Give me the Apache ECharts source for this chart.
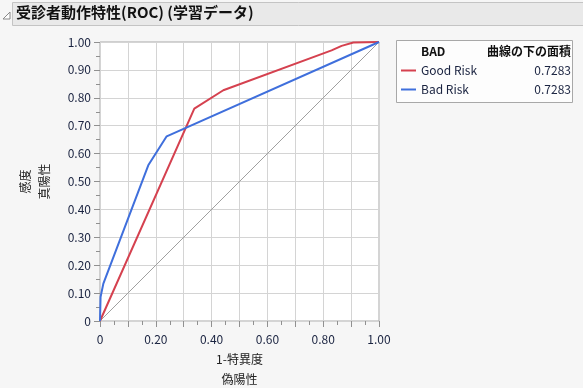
<!DOCTYPE html>
<html><head><meta charset="utf-8">
<script src="https://cdn.jsdelivr.net/npm/echarts@6/dist/echarts.min.js"></script>
<style>html,body{margin:0;padding:0;background:#f6f6f6;}#c{width:583px;height:388px;}</style>
</head><body><div id="c"></div>
<script>
const title = '受診者動作特性(ROC) (学習データ)';
const xName = '1-特異度\n偽陽性';
const yName = '感度\n真陽性';
const legendHeader = ['BAD', '曲線の下の面積'];
const seriesNames = ['Good Risk', 'Bad Risk'];
const aucValues = ['0.7283', '0.7283'];
const goodFpr = [0, 0.338, 0.442, 0.83, 0.866, 0.908, 1];
const goodTpr = [0, 0.761, 0.827, 0.970, 0.986, 0.998, 1];
const badFpr = [0, 0.002, 0.012, 0.173, 0.239, 1];
const badTpr = [0, 0.086, 0.134, 0.558, 0.662, 1];
const diagX = [0, 1];
const diagY = [0, 1];

const font = '"Noto Sans CJK JP", "Noto Sans", sans-serif';
const red = '#d5414f', blue = '#3f6fdc';
const zip = (a, b) => a.map((v, i) => [v, b[i]]);
const fmt = v => { const r = Math.round(v * 100); if (r === 0) return '0'; return (r / 100).toFixed(2); };

const chart = echarts.init(document.getElementById('c'));
chart.setOption({
  backgroundColor: '#f6f6f6',
  animation: false,
  grid: { left: 100, right: 204, top: 42, bottom: 67, outerBoundsMode: 'none', containLabel: false, show: true, backgroundColor: '#ffffff', borderColor: '#a8a8a8', borderWidth: 1 },
  xAxis: {
    type: 'value', min: 0, max: 1, interval: 0.1,
    axisLine: { show: false },
    axisTick: { show: true, length: 6, lineStyle: { color: '#909090' } },
    minorTick: { show: true, splitNumber: 2, length: 4, lineStyle: { color: '#909090' } },
    splitLine: { show: true, lineStyle: { color: '#d4d4d4' } },
    axisLabel: { fontFamily: font, fontSize: 12, color: '#1a2340', margin: 12,
      formatter: v => (Math.round(v * 10) % 2 === 0 ? fmt(v) : '') },
    name: xName, nameLocation: 'middle', nameGap: 28,
    nameTextStyle: { fontFamily: font, fontSize: 12, color: '#222', lineHeight: 20 }
  },
  yAxis: {
    type: 'value', min: 0, max: 1, interval: 0.1,
    axisLine: { show: false },
    axisTick: { show: true, length: 6, lineStyle: { color: '#909090' } },
    minorTick: { show: true, splitNumber: 2, length: 4, lineStyle: { color: '#909090' } },
    splitLine: { show: true, lineStyle: { color: '#d4d4d4' } },
    axisLabel: { fontFamily: font, fontSize: 12, color: '#1a2340', margin: 9, formatter: fmt },
    name: yName, nameLocation: 'middle', nameGap: 46, nameRotate: 90,
    nameTextStyle: { fontFamily: font, fontSize: 12, color: '#222', lineHeight: 19 }
  },
  series: [
    { type: 'line', data: zip(diagX, diagY), symbol: 'none', lineStyle: { color: '#a0a0a0', width: 1 }, silent: true },
    { type: 'line', name: seriesNames[0], data: zip(goodFpr, goodTpr), symbol: 'none', lineStyle: { color: red, width: 2 } },
    { type: 'line', name: seriesNames[1], data: zip(badFpr, badTpr), symbol: 'none', lineStyle: { color: blue, width: 2 } }
  ],
  graphic: [
    { type: 'rect', shape: { x: 12.5, y: 2.5, width: 575, height: 23 }, style: { fill: '#e9e9e9', stroke: '#c4c4c4', lineWidth: 1 } },
    { type: 'polygon', shape: { points: [[3, 19], [10, 12], [10, 19]] }, style: { fill: '#fff', stroke: '#888', lineWidth: 1 } },
    { type: 'text', left: 16, top: 5, style: { text: title, font: 'bold 15px ' + font, fill: '#111' } },
    { type: 'rect', shape: { x: 396.5, y: 40.5, width: 176, height: 62 }, style: { fill: '#fdfdfd', stroke: '#a8a8a8', lineWidth: 1 } },
    { type: 'text', x: 421, y: 51, style: { text: legendHeader[0], font: 'bold 12px ' + font, fill: '#111', textVerticalAlign: 'middle' } },
    { type: 'text', x: 571, y: 51, style: { text: legendHeader[1], font: 'bold 12px ' + font, fill: '#111', textAlign: 'right', textVerticalAlign: 'middle' } },
    { type: 'line', shape: { x1: 401, y1: 70.5, x2: 416, y2: 70.5 }, style: { stroke: red, lineWidth: 2 } },
    { type: 'line', shape: { x1: 401, y1: 89.5, x2: 416, y2: 89.5 }, style: { stroke: blue, lineWidth: 2 } },
    { type: 'text', x: 421, y: 70, style: { text: seriesNames[0], font: '12px ' + font, fill: '#1a2340', textVerticalAlign: 'middle' } },
    { type: 'text', x: 421, y: 89, style: { text: seriesNames[1], font: '12px ' + font, fill: '#1a2340', textVerticalAlign: 'middle' } },
    { type: 'text', x: 571, y: 70, style: { text: aucValues[0], font: '12px ' + font, fill: '#1a2340', textAlign: 'right', textVerticalAlign: 'middle' } },
    { type: 'text', x: 571, y: 89, style: { text: aucValues[1], font: '12px ' + font, fill: '#1a2340', textAlign: 'right', textVerticalAlign: 'middle' } }
  ]
});
</script></body></html>
